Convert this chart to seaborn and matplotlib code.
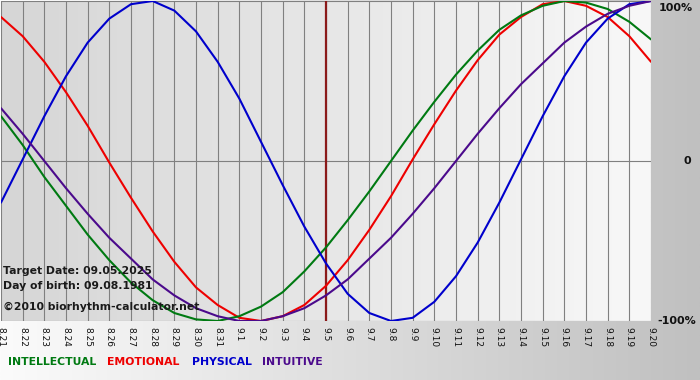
import numpy as np
import pandas as pd
import matplotlib
matplotlib.use('Agg')
import matplotlib.pyplot as plt
import seaborn as sns
from matplotlib.colors import LinearSegmentedColormap

# day labels along the bottom (Aug 21 - Sep 20)
days = ['8.21', '8.22', '8.23', '8.24', '8.25', '8.26', '8.27', '8.28', '8.29', '8.30', '8.31',
        '9.1', '9.2', '9.3', '9.4', '9.5', '9.6', '9.7', '9.8', '9.9', '9.10',
        '9.11', '9.12', '9.13', '9.14', '9.15', '9.16', '9.17', '9.18', '9.19', '9.20']

# values, -1 .. 1
intellectual = [0.28, 0.10, -0.10, -0.28, -0.46, -0.62, -0.76, -0.87, -0.95, -0.99, -1.00,
                -0.97, -0.91, -0.82, -0.69, -0.54, -0.37, -0.19, 0.00, 0.19, 0.37,
                0.54, 0.69, 0.82, 0.91, 0.97, 1.00, 0.99, 0.95, 0.87, 0.76]
emotional = [0.90, 0.78, 0.62, 0.43, 0.22, -0.01, -0.23, -0.44, -0.63, -0.79, -0.90,
             -0.98, -1.00, -0.97, -0.90, -0.78, -0.62, -0.43, -0.22, 0.01, 0.23,
             0.44, 0.63, 0.79, 0.90, 0.98, 1.00, 0.97, 0.90, 0.78, 0.62]
physical = [-0.26, 0.01, 0.28, 0.53, 0.74, 0.89, 0.98, 1.00, 0.94, 0.81, 0.62,
            0.39, 0.12, -0.15, -0.41, -0.64, -0.83, -0.95, -1.00, -0.98, -0.88,
            -0.72, -0.51, -0.26, 0.01, 0.28, 0.53, 0.74, 0.89, 0.98, 1.00]
intuitive = [0.33, 0.17, 0.00, -0.17, -0.33, -0.48, -0.61, -0.74, -0.84, -0.92, -0.97,
             -1.00, -1.00, -0.97, -0.92, -0.84, -0.74, -0.61, -0.48, -0.33, -0.17,
             0.00, 0.17, 0.33, 0.48, 0.61, 0.74, 0.84, 0.92, 0.97, 1.00]

target_idx = days.index('9.5')

colors = {'INTELLECTUAL': '#007a12', 'EMOTIONAL': '#ee0000',
          'PHYSICAL': '#0000cc', 'INTUITIVE': '#4b0a8c'}

rows = []
for name, vals in [('INTELLECTUAL', intellectual), ('EMOTIONAL', emotional),
                   ('PHYSICAL', physical), ('INTUITIVE', intuitive)]:
    for i, v in enumerate(vals):
        rows.append({'day': i, 'value': v, 'rhythm': name})
df = pd.DataFrame(rows)

sns.set_style('white')
plt.rcParams['font.family'] = ['DejaVu Sans']

W, H = 700, 380
fig = plt.figure(figsize=(7, 3.8), dpi=100)

# figure background: light on the left, grey on the right
bg = fig.add_axes([0, 0, 1, 1], zorder=-5)
bg.imshow(np.linspace(0, 1, 256).reshape(1, -1), aspect='auto', extent=[0, 1, 0, 1],
          cmap=LinearSegmentedColormap.from_list('bg', ['#fbfbfb', '#c0c0c0']))
bg.axis('off')

ax = fig.add_axes([1 / W, 1 - 321 / H, 650 / W, 320 / H])
ax.imshow(np.linspace(0, 1, 256).reshape(1, -1), aspect='auto', extent=[0, 30, -1, 1],
          cmap=LinearSegmentedColormap.from_list('pa', ['#d6d6d6', '#f8f8f8']), zorder=0)

for i in range(len(days)):
    ax.axvline(i, color='#808080', lw=0.8, zorder=1)
for yv in [-1, 0, 1]:
    ax.axhline(yv, color='#808080', lw=0.8, zorder=1)
ax.axvline(target_idx, color='#8b1a1a', lw=1.6, zorder=2)

sns.lineplot(data=df, x='day', y='value', hue='rhythm',
             hue_order=['EMOTIONAL', 'INTELLECTUAL', 'PHYSICAL', 'INTUITIVE'],
             palette=colors, lw=1.5, legend=False, ax=ax, zorder=3)

ax.set_xlim(0, 30)
ax.set_ylim(-1, 1)
ax.set_xlabel('')
ax.set_ylabel('')
ax.set_yticks([])
ax.set_xticks(range(len(days)))
ax.set_xticklabels(days, rotation=270, fontsize=6.5, color='#111111')
ax.tick_params(axis='x', length=3, color='#808080', width=0.8, pad=1)
for s in ax.spines.values():
    s.set_visible(False)

# info text inside the plot
info = dict(fontsize=7.8, fontweight='bold', color='#1a1a1a', va='center', ha='left')
fig.text(3 / W, 1 - 271 / H, 'Target Date: 09.05.2025', **info)
fig.text(3 / W, 1 - 286 / H, 'Day of birth: 09.08.1981', **info)
fig.text(3 / W, 1 - 307 / H, '\u00a92010 biorhythm-calculator.net', **info)

# right-hand percent labels
pct = dict(fontsize=8, fontweight='bold', color='#111111', va='center', ha='left')
fig.text(659 / W, 1 - 8 / H, '100%', **pct)
fig.text(683 / W, 1 - 161 / H, '0', **pct)
fig.text(657 / W, 1 - 321 / H, '-100%', **pct)

# legend row
for name, x in [('INTELLECTUAL', 8), ('EMOTIONAL', 107), ('PHYSICAL', 192), ('INTUITIVE', 262)]:
    fig.text(x / W, 1 - 362 / H, name, fontsize=7.8, fontweight='bold',
             color=colors[name], va='center', ha='left')

fig.savefig('out.png', dpi=100)
